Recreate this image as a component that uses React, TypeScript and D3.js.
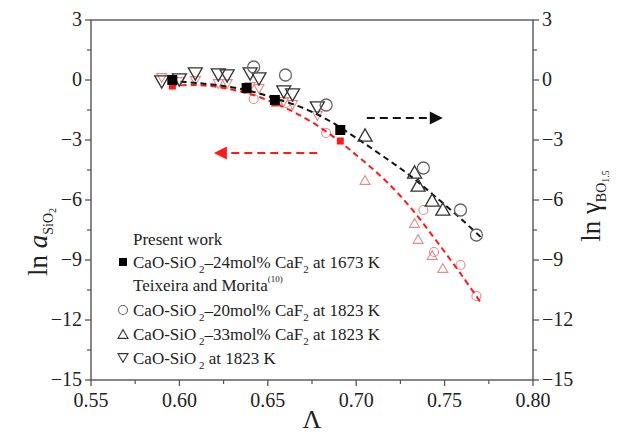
import * as d3 from "d3";

// present work, CaO-SiO2-24mol% CaF2 at 1673 K
const presentX = [0.596, 0.638, 0.654, 0.691];
const presentGamma = [0.0, -0.4, -1.0, -2.5];
const presentA = [-0.3, -0.5, -1.15, -3.05];

// Teixeira and Morita, CaO-SiO2-20mol% CaF2 at 1823 K
const caf20X = [0.642, 0.66, 0.683, 0.738, 0.759, 0.768];
const caf20Gamma = [0.65, 0.25, -1.25, -4.4, -6.5, -7.75];
const caf20AX = [0.642, 0.66, 0.683, 0.738, 0.744, 0.759, 0.768];
const caf20A = [-0.95, -1.15, -2.65, -6.5, -8.6, -9.25, -10.8];

// CaO-SiO2-33mol% CaF2 at 1823 K
const caf33X = [0.705, 0.733, 0.735, 0.743, 0.749];
const caf33Gamma = [-2.75, -4.6, -5.25, -6.0, -6.45];
const caf33A = [-5.0, -7.15, -7.95, -8.75, -9.4];

// CaO-SiO2 at 1823 K
const binX = [0.59, 0.6, 0.609, 0.622, 0.627, 0.64, 0.645, 0.659, 0.664, 0.678];
const binGamma = [-0.1, 0.0, 0.3, 0.25, 0.2, 0.3, 0.05, -0.6, -0.75, -1.4];
const binA = [0.1, -0.1, -0.05, -0.2, -0.2, -0.35, -0.45, -1.1, -1.25, -1.8];

// fitted dashed curves
const fitX = [0.595, 0.61, 0.625, 0.64, 0.655, 0.67, 0.685, 0.7, 0.715, 0.73, 0.745, 0.76, 0.771];
const fitGamma = [-0.05, -0.15, -0.3, -0.55, -0.95, -1.4, -2.05, -2.9, -3.8, -4.75, -5.85, -7.0, -7.9];
const fitA = [-0.3, -0.25, -0.4, -0.7, -1.2, -1.85, -2.7, -3.75, -4.9, -6.3, -8.0, -9.8, -11.2];

// annotation arrows [from, to]
const gammaArrow = [[0.706, -1.9], [0.749, -1.9]];
const aArrow = [[0.678, -3.65], [0.6195, -3.65]];

const xTicks = [0.55, 0.6, 0.65, 0.7, 0.75, 0.8];
const yTicks = [3, 0, -3, -6, -9, -12, -15];

const font = "Liberation Serif, DejaVu Serif, serif";
const axisColor = "#555";
const black = "#333";
const pink = "#e28a8a";
const red = "#ff1a1a";

const width = 618;
const height = 436;
const margin = { top: 20, right: 85, bottom: 56, left: 91 };

const x = d3.scaleLinear().domain([0.55, 0.8]).range([margin.left, width - margin.right]);
const y = d3.scaleLinear().domain([-15, 3]).range([height - margin.bottom, margin.top]);

function tri(cx: number, cy: number, s: number, down: boolean) {
  const h = s * 0.87;
  return down
    ? `M${cx - s / 2},${cy - h / 2}L${cx + s / 2},${cy - h / 2}L${cx},${cy + h / 2}Z`
    : `M${cx - s / 2},${cy + h / 2}L${cx + s / 2},${cy + h / 2}L${cx},${cy - h / 2}Z`;
}

function Arrow({ pts, color, dash }: { pts: number[][]; color: string; dash: string }) {
  const x0 = x(pts[0][0]), y0 = y(pts[0][1]);
  const x1 = x(pts[1][0]), y1 = y(pts[1][1]);
  const dir = Math.sign(x1 - x0);
  const head = 13;
  return (
    <g>
      <line x1={x0} y1={y0} x2={x1 - dir * head} y2={y1} stroke={color} strokeWidth={2} strokeDasharray={dash} />
      <path d={`M${x1},${y1}L${x1 - dir * head},${y1 - 6.5}L${x1 - dir * head},${y1 + 6.5}Z`} fill={color} />
    </g>
  );
}

export default function App() {
  const line = d3.line<number>().x((d, i) => x(fitX[i])).y((d) => y(d)).curve(d3.curveCatmullRom);
  const x0 = x(0.55), x1 = x(0.8), yb = y(-15), yt = y(3);
  const xMinor = d3.range(0.575, 0.8, 0.05);
  const yMinor = d3.range(-13.5, 3, 3);

  const legendX = 133;
  const legendMark = 123;
  const rows = [245, 268, 291, 316, 340, 364];

  return (
    <svg width={width} height={height} style={{ position: "absolute", left: 0, top: 0, background: "#fff", fontFamily: font }}>
      {/* frame */}
      <rect x={x0} y={yt} width={x1 - x0} height={yb - yt} fill="none" stroke={axisColor} strokeWidth={1.4} />

      {/* x ticks */}
      {xTicks.map((t) => (
        <g key={"xt" + t}>
          <line x1={x(t)} x2={x(t)} y1={yb} y2={yb + 6} stroke={axisColor} strokeWidth={1.3} />
          <text x={x(t)} y={yb + 27} textAnchor="middle" fontSize={20} fill="#222">{t.toFixed(2)}</text>
        </g>
      ))}
      {xMinor.map((t) => (
        <line key={"xm" + t} x1={x(t)} x2={x(t)} y1={yb} y2={yb + 4} stroke={axisColor} strokeWidth={1.2} />
      ))}

      {/* y ticks, both sides */}
      {yTicks.map((t) => (
        <g key={"yt" + t}>
          <line x1={x0 - 6} x2={x0} y1={y(t)} y2={y(t)} stroke={axisColor} strokeWidth={1.3} />
          <line x1={x1} x2={x1 + 6} y1={y(t)} y2={y(t)} stroke={axisColor} strokeWidth={1.3} />
          <text x={x0 - 9} y={y(t) + 6} textAnchor="end" fontSize={20} fill="#222">{t < 0 ? "\u2212" + -t : t}</text>
          <text x={x1 + 9} y={y(t) + 6} textAnchor="start" fontSize={20} fill="#222">{t < 0 ? "\u2212" + -t : t}</text>
        </g>
      ))}
      {yMinor.map((t) => (
        <g key={"ym" + t}>
          <line x1={x0 - 4} x2={x0} y1={y(t)} y2={y(t)} stroke={axisColor} strokeWidth={1.2} />
          <line x1={x1} x2={x1 + 4} y1={y(t)} y2={y(t)} stroke={axisColor} strokeWidth={1.2} />
        </g>
      ))}

      {/* axis titles */}
      <text x={x((0.55 + 0.8) / 2)} y={428} textAnchor="middle" fontSize={26} fill="#222">Λ</text>
      <text transform={`translate(47,242) rotate(-90)`} textAnchor="middle" fontSize={27} fill="#222">
        ln <tspan fontStyle="italic">a</tspan>
        <tspan fontSize={14} dy={6}>SiO</tspan>
        <tspan fontSize={10} dy={3}>2</tspan>
      </text>
      <text transform={`translate(600,206) rotate(-90)`} textAnchor="middle" fontSize={27} fill="#222">
        ln γ<tspan fontSize={14} dy={6}>BO</tspan>
        <tspan fontSize={10} dy={3}>1.5</tspan>
      </text>

      {/* ln a points (pink / red) */}
      {binX.map((v, i) => (
        <path key={"ba" + i} d={tri(x(v), y(binA[i]), 10, true)} fill="none" stroke={pink} strokeWidth={1.1} />
      ))}
      {caf33X.map((v, i) => (
        <path key={"ta" + i} d={tri(x(v), y(caf33A[i]), 10, false)} fill="none" stroke={pink} strokeWidth={1.1} />
      ))}
      {caf20AX.map((v, i) => (
        <circle key={"ca" + i} cx={x(v)} cy={y(caf20A[i])} r={4.5} fill="none" stroke={pink} strokeWidth={1.1} />
      ))}
      {presentX.map((v, i) => (
        <rect key={"pa" + i} x={x(v) - 3.5} y={y(presentA[i]) - 3.5} width={7} height={7} fill={red} />
      ))}

      {/* fitted curves */}
      <path d={line(fitA) || ""} fill="none" stroke={red} strokeWidth={2} strokeDasharray="6 4" />
      <path d={line(fitGamma) || ""} fill="none" stroke="#111" strokeWidth={2} strokeDasharray="6 4" />

      {/* ln gamma points (black) */}
      {binX.map((v, i) => (
        <path key={"bg" + i} d={tri(x(v), y(binGamma[i]), 14, true)} fill="none" stroke={black} strokeWidth={1.3} />
      ))}
      {caf33X.map((v, i) => (
        <path key={"tg" + i} d={tri(x(v), y(caf33Gamma[i]), 14, false)} fill="none" stroke={black} strokeWidth={1.3} />
      ))}
      {caf20X.map((v, i) => (
        <circle key={"cg" + i} cx={x(v)} cy={y(caf20Gamma[i])} r={6} fill="none" stroke="#666" strokeWidth={1.3} />
      ))}
      {presentX.map((v, i) => (
        <rect key={"pg" + i} x={x(v) - 5} y={y(presentGamma[i]) - 5} width={10} height={10} fill="#000" />
      ))}

      {/* arrows */}
      <Arrow pts={gammaArrow} color="#111" dash="8 5" />
      <Arrow pts={aArrow} color={red} dash="8 5" />

      {/* legend */}
      <g fontSize={17} fill="#222">
        <text x={legendX} y={rows[0]}>Present work</text>
        <rect x={legendMark - 4} y={rows[1] - 10} width={8} height={8} fill="#000" />
        <text x={legendX} y={rows[1]}>
          CaO-SiO<tspan fontSize={11} dy={5}> 2</tspan><tspan dy={-5}>–24mol% CaF</tspan>
          <tspan fontSize={11} dy={5}>2</tspan><tspan dy={-5}> at 1673 K</tspan>
        </text>
        <text x={legendX} y={rows[2]}>
          Teixeira and Morita<tspan fontSize={9} dy={-9}>(10)</tspan>
        </text>
        <circle cx={legendMark} cy={rows[3] - 6} r={4.5} fill="none" stroke="#666" strokeWidth={1.1} />
        <text x={legendX} y={rows[3]}>
          CaO-SiO<tspan fontSize={11} dy={5}> 2</tspan><tspan dy={-5}>–20mol% CaF</tspan>
          <tspan fontSize={11} dy={5}>2</tspan><tspan dy={-5}> at 1823 K</tspan>
        </text>
        <path d={tri(legendMark, rows[4] - 6, 10, false)} fill="none" stroke={black} strokeWidth={1.1} />
        <text x={legendX} y={rows[4]}>
          CaO-SiO<tspan fontSize={11} dy={5}> 2</tspan><tspan dy={-5}>–33mol% CaF</tspan>
          <tspan fontSize={11} dy={5}>2</tspan><tspan dy={-5}> at 1823 K</tspan>
        </text>
        <path d={tri(legendMark, rows[5] - 6, 10, true)} fill="none" stroke={black} strokeWidth={1.1} />
        <text x={legendX} y={rows[5]}>
          CaO-SiO<tspan fontSize={11} dy={5}> 2</tspan><tspan dy={-5}> at 1823 K</tspan>
        </text>
      </g>
    </svg>
  );
}
